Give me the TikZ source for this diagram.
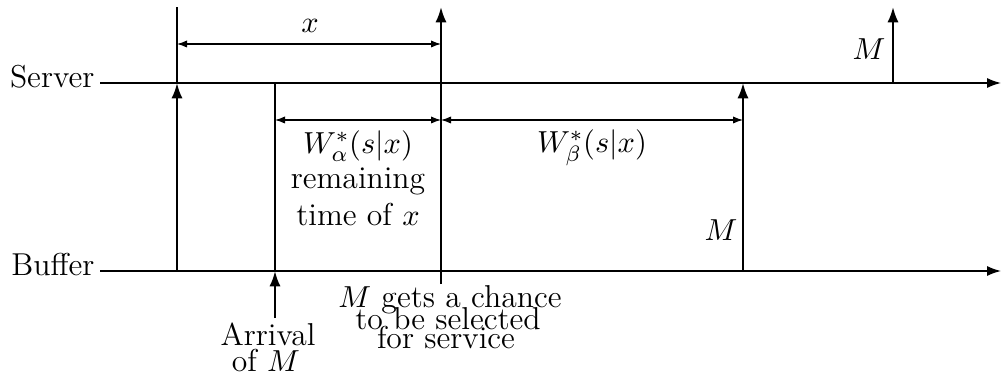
\documentclass[tikz,border=0pt]{standalone}
\usetikzlibrary{arrows.meta}
\begin{document}
\begin{tikzpicture}[x=0.36pt,y=-0.36pt,
  font=\fontsize{11.4}{13}\selectfont,
  axis/.style={line width=0.55pt,-{Latex[length=5pt,width=3.6pt]}},
  evt/.style={line width=0.8pt,-{Latex[length=5.5pt,width=4pt]}},
  plain/.style={line width=0.45pt},
  dim/.style={line width=0.4pt,{Latex[length=3.6pt,width=2.6pt]}-{Latex[length=3.6pt,width=2.6pt]}},
  lbl/.style={inner sep=0pt,anchor=base}]
\useasboundingbox (0,0) rectangle (1002,378);
% axes
\node[lbl,anchor=base east] (srv) at (95,88) {Server};
\node[lbl,anchor=base east] (buf) at (95,276) {Buffer};
\coordinate (s0) at (100,83); \coordinate (s1) at (1001,83);
\coordinate (b0) at (100,271); \coordinate (b1) at (1001,271);
\draw[axis] (s0) -- (s1);
\draw[axis] (b0) -- (b1);
% event coordinates
\coordinate (aT) at (177,7);  \coordinate (aS) at (177,83);  \coordinate (aB) at (177,271);
\coordinate (bS) at (275,83); \coordinate (bB) at (275,271); \coordinate (bL) at (275,318);
\coordinate (cT) at (441,7);  \coordinate (cS) at (441,83);  \coordinate (cB) at (441,271); \coordinate (cL) at (441,284);
\coordinate (dS) at (743,83); \coordinate (dB) at (743,271);
\coordinate (eT) at (893,7);  \coordinate (eS) at (893,83);
% verticals
\draw[plain] (aS) -- (aT);
\draw[evt] (aB) -- (aS);
\draw[plain] (bS) -- (bB);
\draw[evt] (bL) -- (bB);
\draw[plain] (cL) -- (cS);
\draw[evt] (cS) -- (cT);
\draw[evt] (dB) -- (dS);
\draw[evt] (eS) -- (eT);
% dimension lines
\coordinate (xa) at (177,44); \coordinate (xb) at (441,44);
\coordinate (wa0) at (275,120); \coordinate (wa1) at (441,120);
\coordinate (wb1) at (743,120);
\draw[dim] (xa) -- (xb);
\draw[dim] (wa0) -- (wa1);
\draw[dim] (wa1) -- (wb1);
% labels
\node[lbl] (xl) at (310,33) {$x$};
\node[lbl] (wal) at (358,154) {$W^*_\alpha(s|x)$};
\node[lbl] (rem) at (358,189) {remaining};
\node[lbl] (tim) at (358,225) {time of $x$};
\node[lbl] (wbl) at (592,153) {$W^*_\beta(s|x)$};
\node[lbl,anchor=base east] (m1) at (738,241) {$M$};
\node[lbl,anchor=base east] (m2) at (886,60) {$M$};
\node[lbl] (arr) at (268,345) {Arrival};
\node[lbl] (ofm) at (266,371) {of $M$};
\node[lbl] (g1) at (450,308) {$M$ gets a chance};
\node[lbl] (g2) at (448,329) {to be selected};
\node[lbl] (g3) at (446,348) {for service};
\end{tikzpicture}
\end{document}
